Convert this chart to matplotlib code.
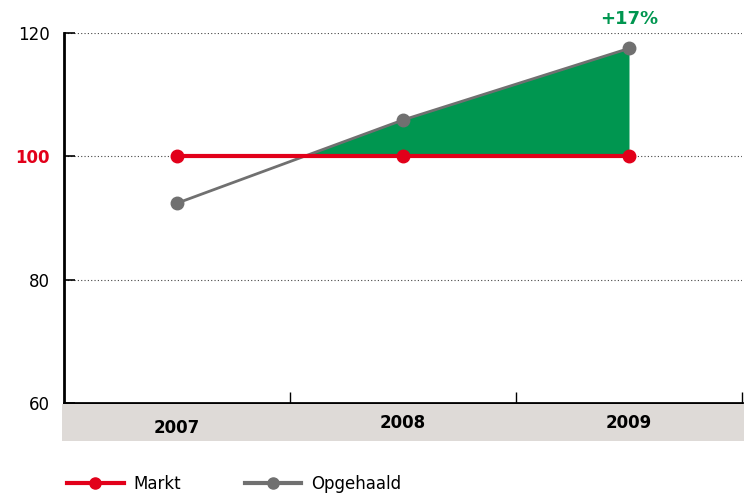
import numpy as np
import matplotlib.pyplot as plt
from matplotlib.patches import Rectangle
from matplotlib.lines import Line2D

years = ['2007', '2008', '2009']
markt = [100, 100, 100]
opgehaald = [92.4, 105.9, 117.5]
yticks = [60, 80, 100, 120]

red = '#e2001a'
gray = '#707070'
green = '#009650'

fig = plt.figure(figsize=(7.44, 4.94), dpi=100)
ax = fig.add_axes([64/744, 1-403/494, 678/744, 370/494])

x = np.arange(len(years)) + 0.5
ax.set_xlim(0, 3)
ax.set_ylim(60, 120)

# grid lines (dotted)
for v in yticks[1:]:
    ax.axhline(v, color='#444444', lw=0.8, ls=(0, (1, 2)), zorder=1)

# green fill where opgehaald above markt
xf = np.linspace(x[0], x[-1], 400)
of = np.interp(xf, x, opgehaald)
mf = np.interp(xf, x, markt)
ax.fill_between(xf, mf, of, where=of >= mf, color=green, lw=0, zorder=2)

ax.plot(x, opgehaald, color=gray, lw=2, marker='o', ms=9, zorder=3)
ax.plot(x, markt, color=red, lw=3, marker='o', ms=9, zorder=4)

ax.text(x[-1], 120.8, '+17%', color=green, fontsize=13, fontweight='bold',
        ha='center', va='bottom')

# axes styling
for s in ['top', 'right']:
    ax.spines[s].set_visible(False)
ax.spines['left'].set_linewidth(2)
ax.spines['bottom'].set_linewidth(2)
ax.set_yticks(yticks)
ax.set_yticklabels([str(v) for v in yticks], fontsize=12)
ax.get_yticklabels()[2].set_color(red)
ax.get_yticklabels()[2].set_fontweight('bold')
ax.tick_params(axis='y', direction='in', length=8, width=1.2, pad=10)
ax.set_xticks([1, 2, 3])
ax.set_xticklabels([])
ax.tick_params(axis='x', direction='in', length=8, width=1)

# gray band under x axis
band = Rectangle((62/744, 1-441/494), 682/744, 37/494, transform=fig.transFigure,
                 facecolor='#dedad7', edgecolor='none', zorder=0)
fig.patches.append(band)
label_y = [428, 423, 423]
for xi, yr, ly in zip(x, years, label_y):
    fx = (64 + xi * 226) / 744
    fig.text(fx, 1-ly/494, yr, ha='center', va='center', fontsize=12,
             fontweight='bold')

# legend
h1 = Line2D([], [], color=red, lw=3, marker='o', ms=8)
h2 = Line2D([], [], color=gray, lw=3, marker='o', ms=8)
fig.legend([h1, h2], ['Markt', 'Opgehaald'], loc='center left',
           bbox_to_anchor=(52/744, 1-484/494), ncol=2, frameon=False,
           fontsize=12, handlelength=3.4, handletextpad=0.6, columnspacing=3.8)

fig.savefig('out.png', dpi=100)
